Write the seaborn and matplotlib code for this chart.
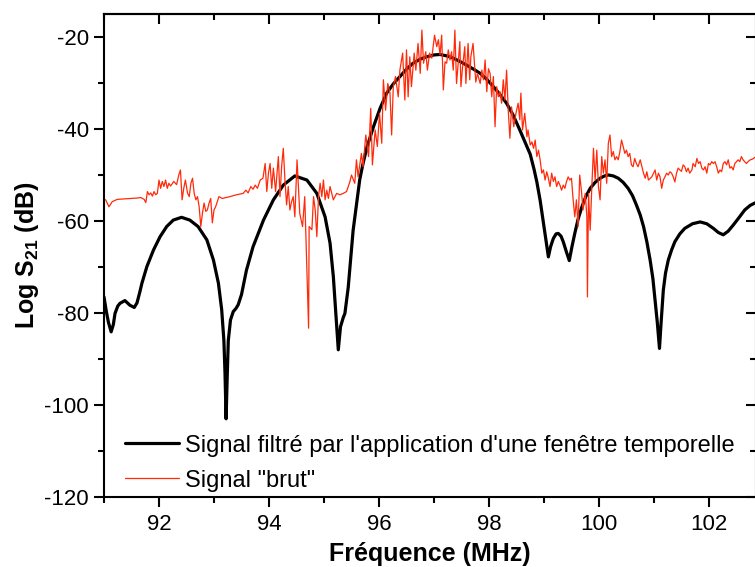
import matplotlib
matplotlib.use("Agg")
import matplotlib.pyplot as plt
from matplotlib.ticker import MultipleLocator
import seaborn as sns

# Filtered signal (time-window gated) - frequency in MHz, level in dB
filt_freq = [91.00, 91.04, 91.08, 91.13, 91.17, 91.20, 91.25, 91.29, 91.38, 91.47,
             91.55, 91.60, 91.65, 91.69, 91.78, 91.90, 92.02, 92.14, 92.26, 92.41,
             92.56, 92.71, 92.87, 92.99, 93.08, 93.14, 93.18, 93.20, 93.22, 93.24,
             93.26, 93.30, 93.35, 93.40, 93.44, 93.50, 93.59, 93.71, 93.90, 94.08,
             94.26, 94.47, 94.69, 94.87, 95.02, 95.11, 95.17, 95.22, 95.26, 95.30,
             95.35, 95.38, 95.44, 95.53, 95.65, 95.71, 95.78, 95.90, 96.02, 96.14,
             96.26, 96.38, 96.50, 96.62, 96.75, 96.87, 97.00, 97.11, 97.23, 97.35,
             97.47, 97.59, 97.72, 97.84, 97.96, 98.08, 98.20, 98.32, 98.44, 98.56,
             98.66, 98.75, 98.82, 98.87, 98.93, 98.99, 99.04, 99.08, 99.12, 99.17,
             99.22, 99.26, 99.31, 99.35, 99.41, 99.46, 99.51, 99.56, 99.62, 99.69,
             99.76, 99.84, 99.93, 100.02, 100.10, 100.17, 100.26, 100.35, 100.44, 100.53,
             100.61, 100.68, 100.75, 100.81, 100.87, 100.93, 100.98, 101.02, 101.06, 101.10,
             101.13, 101.17, 101.21, 101.26, 101.32, 101.38, 101.47, 101.56, 101.70, 101.84,
             101.96, 102.08, 102.17, 102.26, 102.35, 102.44, 102.55, 102.65, 102.75, 102.85]
filt_db = [-76.5, -79.5, -82.0, -84.1, -82.5, -80.1, -78.5, -77.9, -77.3, -78.3,
           -78.8, -77.8, -75.5, -73.5, -69.9, -66.3, -63.4, -61.2, -59.8, -59.2,
           -59.8, -61.2, -64.1, -68.5, -73.5, -79.3, -86.0, -93.0, -103.0, -94.0,
           -86.0, -81.5, -79.7, -79.0, -78.2, -76.0, -70.7, -65.6, -59.8, -55.4,
           -52.2, -50.2, -51.1, -54.0, -59.1, -64.8, -72.1, -80.8, -88.0, -83.0,
           -81.0, -80.1, -74.5, -62.0, -51.0, -47.5, -44.0, -39.5, -35.5, -32.2,
           -30.2, -28.6, -27.0, -25.7, -24.8, -24.3, -23.9, -23.8, -24.1, -24.6,
           -25.3, -26.1, -27.0, -27.9, -29.2, -30.8, -32.5, -34.4, -37.0, -40.2,
           -43.0, -45.5, -48.8, -51.5, -55.5, -60.5, -64.5, -67.8, -65.6, -63.8,
           -62.8, -62.7, -63.3, -64.5, -66.8, -68.6, -65.5, -62.7, -59.6, -56.9,
           -54.7, -52.9, -51.6, -50.7, -50.2, -50.0, -50.2, -50.7, -51.6, -52.9,
           -54.5, -56.5, -58.7, -61.2, -64.5, -68.5, -72.5, -77.2, -82.0, -87.7,
           -82.0, -75.0, -71.3, -68.5, -66.3, -64.5, -62.8, -61.6, -60.6, -60.2,
           -60.6, -61.6, -62.5, -63.0, -62.2, -60.9, -59.2, -57.6, -56.6, -56.0]

# Raw signal ("brut")
brut_freq = [91.00, 91.03, 91.09, 91.15, 91.24, 91.36, 91.49, 91.61, 91.67, 91.73,
             91.76, 91.79, 91.82, 91.85, 91.88, 91.91, 91.94, 91.97, 92.00, 92.03,
             92.06, 92.09, 92.12, 92.15, 92.18, 92.21, 92.27, 92.32, 92.36, 92.39,
             92.42, 92.45, 92.48, 92.52, 92.55, 92.58, 92.61, 92.64, 92.67, 92.70,
             92.73, 92.76, 92.79, 92.82, 92.85, 92.88, 92.91, 92.94, 92.97, 93.00,
             93.03, 93.09, 93.15, 93.29, 93.41, 93.53, 93.58, 93.62, 93.67, 93.71,
             93.75, 93.79, 93.84, 93.89, 93.93, 93.96, 93.99, 94.02, 94.05, 94.08,
             94.12, 94.17, 94.20, 94.23, 94.26, 94.29, 94.32, 94.35, 94.38, 94.41,
             94.44, 94.47, 94.51, 94.56, 94.61, 94.65, 94.69, 94.72, 94.73, 94.78,
             94.81, 94.84, 94.87, 94.90, 94.93, 94.96, 94.99, 95.02, 95.05, 95.08,
             95.11, 95.17, 95.23, 95.29, 95.35, 95.41, 95.47, 95.50, 95.56, 95.59,
             95.62, 95.68, 95.71, 95.76, 95.81, 95.85, 95.88, 95.93, 95.97, 96.01,
             96.05, 96.08, 96.12, 96.16, 96.20, 96.23, 96.26, 96.30, 96.35, 96.38,
             96.43, 96.47, 96.50, 96.53, 96.56, 96.59, 96.64, 96.67, 96.71, 96.75,
             96.78, 96.81, 96.85, 96.88, 96.92, 96.96, 97.01, 97.05, 97.08, 97.11,
             97.14, 97.17, 97.20, 97.23, 97.26, 97.29, 97.32, 97.35, 97.38, 97.41,
             97.44, 97.47, 97.49, 97.52, 97.56, 97.58, 97.62, 97.65, 97.67, 97.71,
             97.74, 97.76, 97.79, 97.84, 97.87, 97.90, 97.93, 97.96, 97.99, 98.02,
             98.05, 98.08, 98.11, 98.14, 98.17, 98.20, 98.23, 98.26, 98.29, 98.32,
             98.35, 98.38, 98.41, 98.45, 98.49, 98.53, 98.56, 98.58, 98.61, 98.65,
             98.69, 98.71, 98.75, 98.78, 98.81, 98.84, 98.87, 98.90, 98.93, 98.96,
             98.99, 99.02, 99.05, 99.08, 99.11, 99.14, 99.17, 99.20, 99.23, 99.26,
             99.29, 99.32, 99.35, 99.38, 99.41, 99.44, 99.47, 99.50, 99.53, 99.56,
             99.59, 99.62, 99.65, 99.68, 99.71, 99.75, 99.78, 99.79, 99.81, 99.84,
             99.87, 99.90, 99.93, 99.96, 99.99, 100.02, 100.05, 100.08, 100.11, 100.14,
             100.17, 100.20, 100.23, 100.26, 100.29, 100.32, 100.35, 100.38, 100.41, 100.44,
             100.47, 100.50, 100.53, 100.56, 100.59, 100.62, 100.65, 100.68, 100.71, 100.75,
             100.78, 100.81, 100.84, 100.87, 100.90, 100.96, 101.02, 101.05, 101.08, 101.11,
             101.14, 101.17, 101.20, 101.23, 101.26, 101.29, 101.32, 101.35, 101.38, 101.41,
             101.44, 101.47, 101.50, 101.53, 101.56, 101.59, 101.62, 101.65, 101.69, 101.71,
             101.75, 101.78, 101.81, 101.84, 101.87, 101.90, 101.93, 101.96, 101.99, 102.02,
             102.05, 102.08, 102.11, 102.14, 102.17, 102.20, 102.23, 102.26, 102.29, 102.32,
             102.35, 102.38, 102.41, 102.44, 102.47, 102.50, 102.53, 102.56, 102.59, 102.62,
             102.65, 102.68, 102.71, 102.75, 102.78, 102.81, 102.85]
brut_db = [-55.3, -55.4, -56.9, -55.8, -55.3, -55.2, -55.1, -55.0, -54.9, -55.3,
           -56.0, -53.6, -54.3, -53.9, -54.6, -53.6, -54.3, -54.0, -51.1, -52.9,
           -51.4, -52.5, -51.1, -52.9, -51.8, -52.4, -51.4, -52.1, -50.0, -48.9,
           -55.4, -52.9, -51.1, -54.0, -54.7, -51.8, -50.7, -54.0, -55.4, -54.7,
           -56.9, -61.2, -58.3, -56.1, -57.9, -57.6, -56.1, -55.1, -60.4, -57.6,
           -56.9, -54.7, -55.1, -54.7, -54.3, -54.0, -53.3, -53.9, -52.5, -53.1,
           -52.2, -52.9, -51.1, -50.7, -47.5, -53.6, -49.6, -47.5, -52.9, -48.5,
           -53.6, -46.0, -54.7, -48.1, -44.2, -51.1, -56.5, -52.5, -57.6, -55.8,
           -54.7, -59.1, -46.7, -58.4, -61.2, -54.7, -71.4, -83.3, -61.2, -61.9,
           -54.7, -57.6, -63.4, -54.7, -51.8, -54.7, -51.1, -55.4, -53.3, -55.1,
           -52.5, -55.4, -54.0, -54.3, -54.0, -53.6, -51.5, -50.0, -51.8, -46.7,
           -50.4, -45.3, -48.2, -41.3, -46.0, -35.5, -47.8, -40.2, -43.8, -36.6,
           -43.1, -29.3, -35.9, -30.1, -32.2, -41.3, -30.8, -28.6, -33.0, -27.2,
           -23.5, -33.7, -22.8, -33.0, -24.3, -30.8, -23.5, -27.2, -21.4, -27.9,
           -18.5, -25.7, -23.2, -27.2, -23.5, -24.6, -19.6, -22.1, -20.6, -23.9,
           -19.6, -31.5, -25.4, -25.7, -22.8, -25.0, -23.2, -27.2, -18.5, -30.1,
           -25.7, -21.0, -30.8, -26.5, -22.1, -30.1, -21.4, -29.3, -24.3, -21.4,
           -26.5, -29.8, -27.9, -30.1, -27.2, -29.3, -25.0, -31.9, -26.9, -27.9,
           -33.0, -28.6, -39.5, -30.8, -33.0, -31.9, -34.4, -29.3, -33.7, -27.2,
           -35.9, -42.0, -35.2, -39.5, -36.6, -34.4, -38.0, -32.2, -40.2, -36.6,
           -41.7, -40.2, -43.5, -42.8, -44.2, -42.4, -46.0, -44.6, -46.7, -49.6,
           -48.9, -51.1, -49.3, -50.7, -52.5, -49.6, -51.4, -50.4, -52.5, -51.4,
           -52.2, -53.3, -52.2, -52.9, -51.4, -50.4, -51.1, -50.7, -55.4, -59.1,
           -55.4, -61.2, -50.0, -53.3, -57.6, -54.0, -59.1, -76.5, -54.0, -62.0,
           -52.5, -44.2, -51.1, -44.6, -52.5, -55.4, -46.0, -49.6, -46.7, -51.8,
           -43.1, -41.3, -46.0, -44.9, -46.7, -46.0, -46.7, -44.9, -42.4, -43.8,
           -45.3, -44.6, -46.0, -45.3, -47.8, -48.2, -46.4, -47.5, -48.2, -46.7,
           -48.2, -49.6, -50.7, -49.3, -51.1, -50.4, -48.9, -51.1, -49.6, -50.4,
           -52.9, -51.1, -50.4, -49.6, -50.0, -49.3, -49.6, -50.4, -51.5, -49.6,
           -48.5, -48.9, -49.2, -47.8, -48.2, -49.3, -48.5, -49.6, -48.9, -47.5,
           -48.2, -46.4, -47.5, -47.1, -48.5, -48.9, -48.2, -49.6, -47.5, -47.8,
           -47.1, -47.5, -47.1, -48.2, -49.6, -48.9, -49.3, -47.5, -47.1, -47.8,
           -46.7, -48.5, -48.2, -48.9, -47.5, -47.1, -46.7, -47.1, -46.0, -46.7,
           -47.1, -47.5, -47.1, -46.7, -46.6, -46.4, -46.0]

label_filt = "Signal filtré par l'application d'une fenêtre temporelle"
label_brut = 'Signal "brut"'

sns.set_style("ticks")
plt.rcParams["font.family"] = ["Liberation Sans", "DejaVu Sans"]
plt.rcParams["axes.unicode_minus"] = False
plt.rcParams["text.color"] = "black"
plt.rcParams["axes.labelcolor"] = "black"
plt.rcParams["mathtext.fontset"] = "custom"
plt.rcParams["mathtext.rm"] = "Liberation Sans"
plt.rcParams["mathtext.bf"] = "Liberation Sans:bold"

fig = plt.figure(figsize=(7.55, 5.67), dpi=100)
ax = fig.add_axes([104 / 755, 1 - 497 / 567, 652 / 755, 483 / 567])

sns.lineplot(x=filt_freq, y=filt_db, ax=ax, color="black", linewidth=2.3,
             estimator=None, sort=False, label=label_filt)
sns.lineplot(x=brut_freq, y=brut_db, ax=ax, color="#ff2a0a", linewidth=0.9,
             estimator=None, sort=False, label=label_brut)

ax.set_xlim(91, 102.855)
ax.set_ylim(-120, -15)
ax.xaxis.set_major_locator(MultipleLocator(2))
ax.xaxis.set_minor_locator(MultipleLocator(1))
ax.yaxis.set_major_locator(MultipleLocator(20))
ax.yaxis.set_minor_locator(MultipleLocator(10))

for s in ax.spines.values():
    s.set_linewidth(1.5)
    s.set_color("black")

# bottom/left ticks outward, top/right ticks inward (Origin style)
ax.tick_params(which="both", direction="out", width=1.5, colors="black",
               labelcolor="black", labelsize=16, top=False, right=False)
ax.tick_params(which="major", length=7)
ax.tick_params(which="minor", length=4)
ax.tick_params(axis="x", pad=5)
ax.tick_params(axis="y", pad=4)
sec_x = ax.secondary_xaxis("top")
sec_x.xaxis.set_major_locator(MultipleLocator(2))
sec_x.xaxis.set_minor_locator(MultipleLocator(1))
sec_x.tick_params(which="both", direction="in", width=1.5, colors="black", labeltop=False)
sec_x.tick_params(which="major", length=7)
sec_x.tick_params(which="minor", length=4)
sec_x.spines["top"].set_linewidth(1.5)
sec_x.spines["top"].set_color("black")
sec_y = ax.secondary_yaxis("right")
sec_y.yaxis.set_major_locator(MultipleLocator(20))
sec_y.yaxis.set_minor_locator(MultipleLocator(10))
sec_y.tick_params(which="both", direction="in", width=1.5, colors="black", labelright=False)
sec_y.tick_params(which="major", length=7)
sec_y.tick_params(which="minor", length=4)

ax.set_xlabel("Fréquence (MHz)", fontsize=18, fontweight="bold", labelpad=5)
ax.set_ylabel(r"Log S$_{\mathbf{21}}$ (dB)", fontsize=18, fontweight="bold", labelpad=2)

leg = ax.legend(loc="lower left", bbox_to_anchor=(0.032, 0.011), frameon=False,
                fontsize=17, handlelength=2.3, handletextpad=0.25, labelspacing=0.55,
                borderaxespad=0.0, borderpad=0.0)
for t in leg.get_texts():
    t.set_color("black")

fig.savefig("out.png", dpi=100)
